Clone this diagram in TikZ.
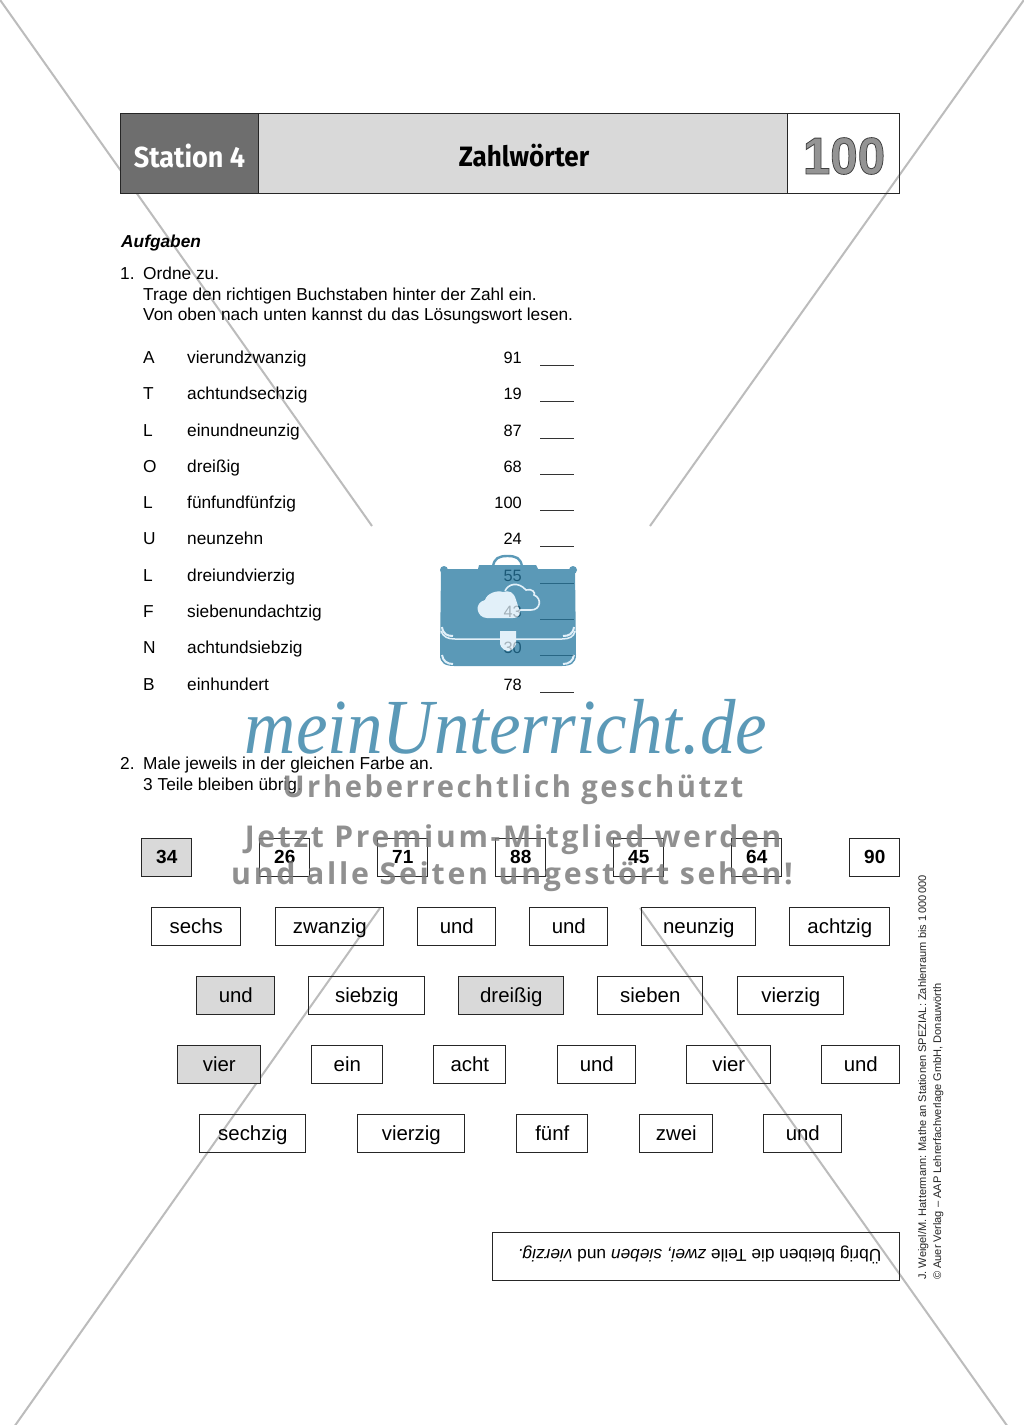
\documentclass[tikz,border=0pt]{standalone}
\usepackage{fontspec}
\setmainfont{Liberation Sans}
\newfontfamily\headfont{Fira Sans}
\newfontfamily\brandfont{Liberation Serif}
\newfontfamily\markfont[LetterSpace=9]{Open Sans}
\definecolor{bagblue}{RGB}{37,120,160}
\definecolor{bagpale}{RGB}{217,236,248}
\definecolor{headdark}{RGB}{110,110,110}
\definecolor{headmid}{RGB}{217,217,217}
\definecolor{diag}{RGB}{188,188,188}
\definecolor{markgrey}{RGB}{125,125,125}
\newcommand{\bodysize}{\fontsize{17.3}{20}\selectfont}
\newcommand{\numsize}{\fontsize{16.4}{20}\selectfont}
\tikzset{
  x=1pt,y=-1pt,
  wordbox/.style={draw=black!85,line width=0.9pt,minimum height=38pt,inner sep=0pt,text height=17pt,text depth=3pt,xshift=-0.2pt,font=\fontsize{20.4}{22}\selectfont,anchor=center},
  numbox/.style={wordbox,text height=16pt,text depth=3pt,font=\bfseries\fontsize{19}{22}\selectfont},
  greyed/.style={fill=headmid},
  bodytext/.style={anchor=base west,inner sep=0pt,font=\bodysize},
  numtext/.style={anchor=base east,inner sep=0pt,font=\numsize},
  marktext/.style={anchor=center,inner sep=0pt,text=markgrey,text opacity=0.85},
  sidetext/.style={anchor=base west,inner sep=0pt,rotate=90,font=\fontsize{11.05}{13}\selectfont,text=black!85},
  diagline/.style={draw=diag,line width=2pt},
  headbox/.style={draw=black!85,line width=1pt}
}
\begin{document}
\begin{tikzpicture}
\useasboundingbox (0,0) rectangle (1024,1425);
\fill[white] (0,0) rectangle (1024,1425);
% diagonals
\draw[diagline] (-2,-3) -- (372,526);
\draw[diagline] (640,908) -- (1008,1427);
\draw[diagline] (1026,-3) -- (650,526);
\draw[diagline] (380,908) -- (14,1427);
% header
\begin{scope}[xshift=-0.25pt,yshift=0.25pt]
\fill[headdark] (121,114) rectangle (259,194);
\fill[headmid] (259,114) rectangle (788,194);
\draw[headbox] (121,114) rectangle (900,194);
\draw[headbox] (259,114) -- (259,194);
\draw[headbox] (788,114) -- (788,194);
\end{scope}
\node[anchor=center,inner sep=0pt,text=white,xscale=0.93] (station) at (189.5,155.5) {\headfont\bfseries\fontsize{29}{32}\selectfont Station 4};
\node[anchor=center,inner sep=0pt,xscale=0.93] (title) at (524,155.5) {\headfont\bfseries\fontsize{28}{32}\selectfont Zahlwörter};
\node[anchor=center,inner sep=0pt,text=black!42,xscale=0.95] (hundred) at (844,156) {\bfseries\fontsize{52}{56}\selectfont\special{pdf:code 2 Tr 0.8 w 0.25 0.25 0.25 RG}100\special{pdf:code 0 Tr}};
% instructions
\node[bodytext,font=\bfseries\itshape\bodysize] (auf) at (121,247) {Aufgaben};
\node[bodytext] (n1) at (120,279) {1.};
\node[bodytext] (t1) at (143,279) {Ordne zu.};
\node[bodytext] (t2) at (143,300) {Trage den richtigen Buchstaben hinter der Zahl ein.};
\node[bodytext] (t3) at (143,320) {Von oben nach unten kannst du das Lösungswort lesen.};
% table
\foreach \yy/\ll/\ww/\nn in {
 363/A/vierundzwanzig/91,
 399/T/achtundsechzig/19,
 436/L/einundneunzig/87,
 472/O/dreißig/68,
 508/L/fünfundfünfzig/100,
 544/U/neunzehn/24,
 581/L/dreiundvierzig/55,
 617/F/siebenundachtzig/43,
 653/N/achtundsiebzig/30,
 690/B/einhundert/78}{
  \node[bodytext] (l\yy) at (143,\yy) {\ll};
  \node[bodytext] (w\yy) at (187,\yy) {\ww};
  \node[numtext] (z\yy) at (522,\yy) {\nn};
  \draw[black!80,line width=1pt] (540,\yy+2.5) -- (574,\yy+2.5);
}
% task 2
\node[bodytext] (n2) at (120,769) {2.};
\node[bodytext] (t4) at (143,769) {Male jeweils in der gleichen Farbe an.};
\node[bodytext] (t5) at (143,790) {3 Teile bleiben übrig.};
% number boxes
\node[numbox,greyed,minimum width=50pt] (a1) at (167,857) {34};
\node[numbox,minimum width=50pt] (a2) at (285,857) {26};
\node[numbox,minimum width=50pt] (a3) at (403,857) {71};
\node[numbox,minimum width=50pt] (a4) at (521,857) {88};
\node[numbox,minimum width=50pt] (a5) at (639,857) {45};
\node[numbox,minimum width=50pt] (a6) at (757,857) {64};
\node[numbox,minimum width=50pt] (a7) at (875,857) {90};
% row 2
\node[wordbox,minimum width=89pt] (b1) at (196.5,926) {sechs};
\node[wordbox,minimum width=108pt] (b2) at (330,926) {zwanzig};
\node[wordbox,minimum width=78pt] (b3) at (457,926) {und};
\node[wordbox,minimum width=78pt] (b4) at (569,926) {und};
\node[wordbox,minimum width=114pt] (b5) at (699,926) {neunzig};
\node[wordbox,minimum width=100pt] (b6) at (840,926) {achtzig};
% row 3
\node[wordbox,greyed,minimum width=78pt] (c1) at (236,995) {und};
\node[wordbox,minimum width=116pt] (c2) at (367,995) {siebzig};
\node[wordbox,greyed,minimum width=105pt] (c3) at (511.5,995) {dreißig};
\node[wordbox,minimum width=105pt] (c4) at (650.5,995) {sieben};
\node[wordbox,minimum width=106pt] (c5) at (791,995) {vierzig};
% row 4
\node[wordbox,greyed,minimum width=83pt] (d1) at (219.5,1064) {vier};
\node[wordbox,minimum width=71pt] (d2) at (347.5,1064) {ein};
\node[wordbox,minimum width=72pt] (d3) at (470,1064) {acht};
\node[wordbox,minimum width=78pt] (d4) at (597,1064) {und};
\node[wordbox,minimum width=84pt] (d5) at (729,1064) {vier};
\node[wordbox,minimum width=78pt] (d6) at (861,1064) {und};
% row 5
\node[wordbox,minimum width=106pt] (e1) at (253,1133) {sechzig};
\node[wordbox,minimum width=107pt] (e2) at (411.5,1133) {vierzig};
\node[wordbox,minimum width=71pt] (e3) at (552.5,1133) {fünf};
\node[wordbox,minimum width=73pt] (e4) at (676.5,1133) {zwei};
\node[wordbox,minimum width=78pt] (e5) at (803,1133) {und};
% answer box
\node[draw=black!85,line width=0.9pt,minimum width=407pt,minimum height=48pt,inner sep=0pt,xshift=-0.2pt] (answer) at (696.5,1256) {};
\node[inner sep=0pt,rotate=180,font=\bodysize] (anstext) at (699.5,1255) {Übrig bleiben die Teile \textit{zwei, sieben} und \textit{vierzig.}};
% side credits
\node[sidetext] (s1) at (926,1280) {J. Weigel/M. Hattermann: Mathe an Stationen SPEZIAL: Zahlenraum bis 1\,000\,000};
\node[sidetext] (s2) at (941,1280) {© Auer Verlag – AAP Lehrerfachverlage GmbH, Donauwörth};
% briefcase watermark
\begin{scope}[transparency group,opacity=0.75]
  \draw[bagblue,line width=2.4pt] (493,567) .. controls (494,558) and (499,556) .. (507.5,556) .. controls (516,556) and (521,558) .. (522,567);
  \fill[bagblue] (478,569) -- (479,565) -- (536,565) -- (538,569) -- cycle;
  \fill[bagblue] (441,569) -- (575,569) -- (576,655) .. controls (576,663) and (571,666) .. (562,666) -- (454,666) .. controls (445,666) and (440,663) .. (440,655) -- cycle;
  \fill[bagblue] (444,570) circle (4pt);
  \fill[bagblue] (573,570) circle (4pt);
  % cloud, filled
  \fill[bagpale] (487,618) .. controls (477,618) and (473,603) .. (485,600) .. controls (487,593) and (497,590) .. (503,592) .. controls (509,590) and (514,592) .. (516,600) -- (520,612) .. controls (520,616) and (517,618) .. (513,618) -- cycle;
  % cloud, outlined
  \draw[bagpale,line width=1.6pt] (505,591) .. controls (508,584) and (518,581) .. (526,590) .. controls (532,588) and (536,593) .. (534,595) .. controls (542,598) and (541,610) .. (531,610) -- (518,610);
  % flap and corners
  \draw[bagpale,line width=1.5pt] (441,631) .. controls (443,637) and (448,639) .. (455,639) -- (500,639) (516,639) -- (562,639) .. controls (569,639) and (574,637) .. (575,631);
  \draw[bagpale,line width=2pt] (442,627) .. controls (443,634) and (447,636) .. (453,636);
  \draw[bagpale,line width=2pt] (574,627) .. controls (573,634) and (569,636) .. (563,636);
  \draw[bagpale,line width=2pt] (442,655) .. controls (443,661) and (447,664) .. (453,664);
  \draw[bagpale,line width=2pt] (574,655) .. controls (573,661) and (569,664) .. (563,664);
  % clasp
  \fill[bagpale] (500,631) -- (516,631) -- (516,644) .. controls (515,648) and (511,651) .. (508,651) .. controls (505,651) and (501,648) .. (500,644) -- cycle;
\end{scope}
\node[anchor=center,inner sep=0pt,text=bagblue,text opacity=0.75,xscale=0.91] (brand) at (506,727) {\brandfont\itshape\fontsize{78}{80}\selectfont meinUnterricht.de};
% grey notice
\node[marktext,xscale=0.972] (m1) at (513,790) {\markfont\bfseries\fontsize{30}{32}\selectfont Urheberrechtlich geschützt};
\node[marktext] (m2) at (513,840) {\markfont\bfseries\fontsize{30}{32}\selectfont Jetzt Premium-Mitglied werden};
\node[marktext,xscale=1.01] (m3) at (512,877) {\markfont\bfseries\fontsize{30}{32}\selectfont und alle Seiten ungestört sehen!};
\end{tikzpicture}
\end{document}
